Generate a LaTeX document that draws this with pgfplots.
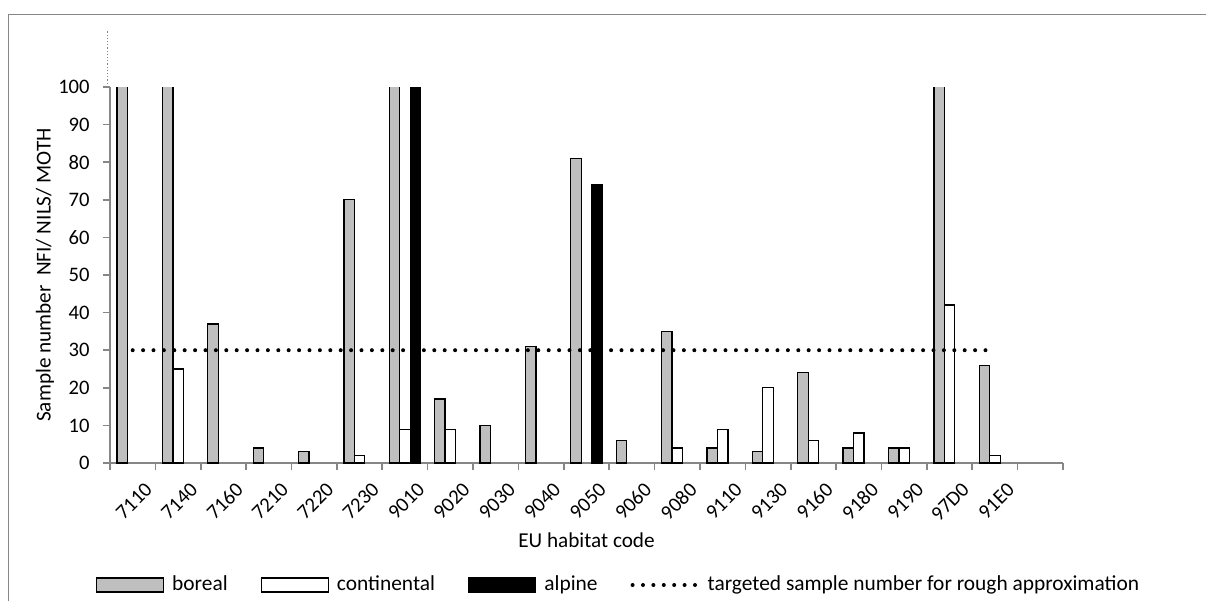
\documentclass[border=0pt]{standalone}
\usepackage{fontspec}
\setmainfont{Carlito}
\usepackage{pgfplots}
\pgfplotsset{compat=1.18}
\definecolor{borealgray}{HTML}{BFBFBF}
\definecolor{axisgray}{HTML}{868686}
\begin{document}
\begin{tikzpicture}
\useasboundingbox (0,0) rectangle (603pt,300.5pt);
\draw[axisgray, line width=0.8pt] (4.25pt,0) -- (4.25pt,293.25pt) -- (603pt,293.25pt);
\draw[axisgray, line width=0.6pt, densely dotted] (53.75pt,257pt) -- (53.75pt,285.5pt);
\begin{axis}[
  at={(55pt,69pt)}, anchor=south west,
  scale only axis, width=476.5pt, height=188pt,
  xmin=-0.5, xmax=20.5, ymin=0, ymax=100,
  axis x line*=bottom, axis y line*=left,
  axis line style={axisgray, line width=0.8pt, -},
  tick align=outside,
  tick style={axisgray, line width=0.8pt},
  xtick={0,...,19},
  xticklabels={7110,7140,7160,7210,7220,7230,9010,9020,9030,9040,9050,9060,9080,9110,9130,9160,9180,9190,97D0,91E0},
  major x tick style={draw=none},
  minor xtick={-0.5,0.5,...,20.5},
  minor tick length=3.5pt,
  ytick={0,10,...,100},
  major tick length=3.5pt,
  /pgf/number format/assume math mode=true,
  ticklabel style={font=\fontsize{10.3}{12}\selectfont},
  xticklabel style={rotate=45, anchor=east, inner sep=0pt, yshift=-11.5pt},
  yticklabel style={anchor=east, inner sep=0pt, xshift=-6.5pt},
  xlabel={EU habitat code},
  ylabel={Sample number\ \ NFI/ NILS/ MOTH},
  label style={font=\fontsize{10.6}{12}\selectfont},
  xlabel style={at={(axis description cs:0.5,-0.2048)}, anchor=center},
  ylabel style={at={(axis description cs:-0.0682,0.5)}, anchor=center},
  legend columns=4,
  legend style={at={(axis description cs:0.5325,-0.3245)}, anchor=center, draw=none,
    inner sep=0pt,
    font=\fontsize{10.7}{12}\selectfont,
    nodes={inner sep=0pt},
    /tikz/every odd column/.append style={column sep=4pt},
    /tikz/every even column/.append style={column sep=16.5pt}},
  legend cell align=left,
]
\addplot[ybar, bar width=0.23, bar shift=-0.23, fill=borealgray, draw=black, line width=0.65pt,
  legend image code/.code={\draw[fill=borealgray, draw=black, line width=0.65pt] (0pt,-3.5pt) rectangle (33.5pt,3.5pt);}]
  coordinates {(0,130) (1,130) (2,37) (3,4) (4,3) (5,70) (6,130) (7,17) (8,10) (9,31) (10,81) (11,6) (12,35) (13,4) (14,3) (15,24) (16,4) (17,4) (18,130) (19,26)};
\addlegendentry{boreal}
\addplot[ybar, bar width=0.23, bar shift=0, fill=white, draw=black, line width=0.65pt,
  legend image code/.code={\draw[fill=white, draw=black, line width=0.65pt] (0pt,-3.5pt) rectangle (33.5pt,3.5pt);}]
  coordinates {(1,25) (5,2) (6,9) (7,9) (12,4) (13,9) (14,20) (15,6) (16,8) (17,4) (18,42) (19,2)};
\addlegendentry{continental}
\addplot[ybar, bar width=0.23, bar shift=0.23, fill=black, draw=black, line width=0.65pt,
  legend image code/.code={\draw[fill=black, draw=black, line width=0.65pt] (0pt,-3.5pt) rectangle (33.5pt,3.5pt);}]
  coordinates {(6,130) (10,74)};
\addlegendentry{alpine}
\addplot[black, line width=2pt, line cap=round, dash pattern=on 0pt off 5.2pt, mark=none,
  legend image code/.code={\draw[black, line width=2pt, line cap=round, dash pattern=on 0pt off 5.2pt] (1pt,0pt) -- (33.5pt,0pt);}]
  coordinates {(0,30) (19,30)};
\addlegendentry{targeted sample number for rough approximation}
\end{axis}
\end{tikzpicture}
\end{document}
